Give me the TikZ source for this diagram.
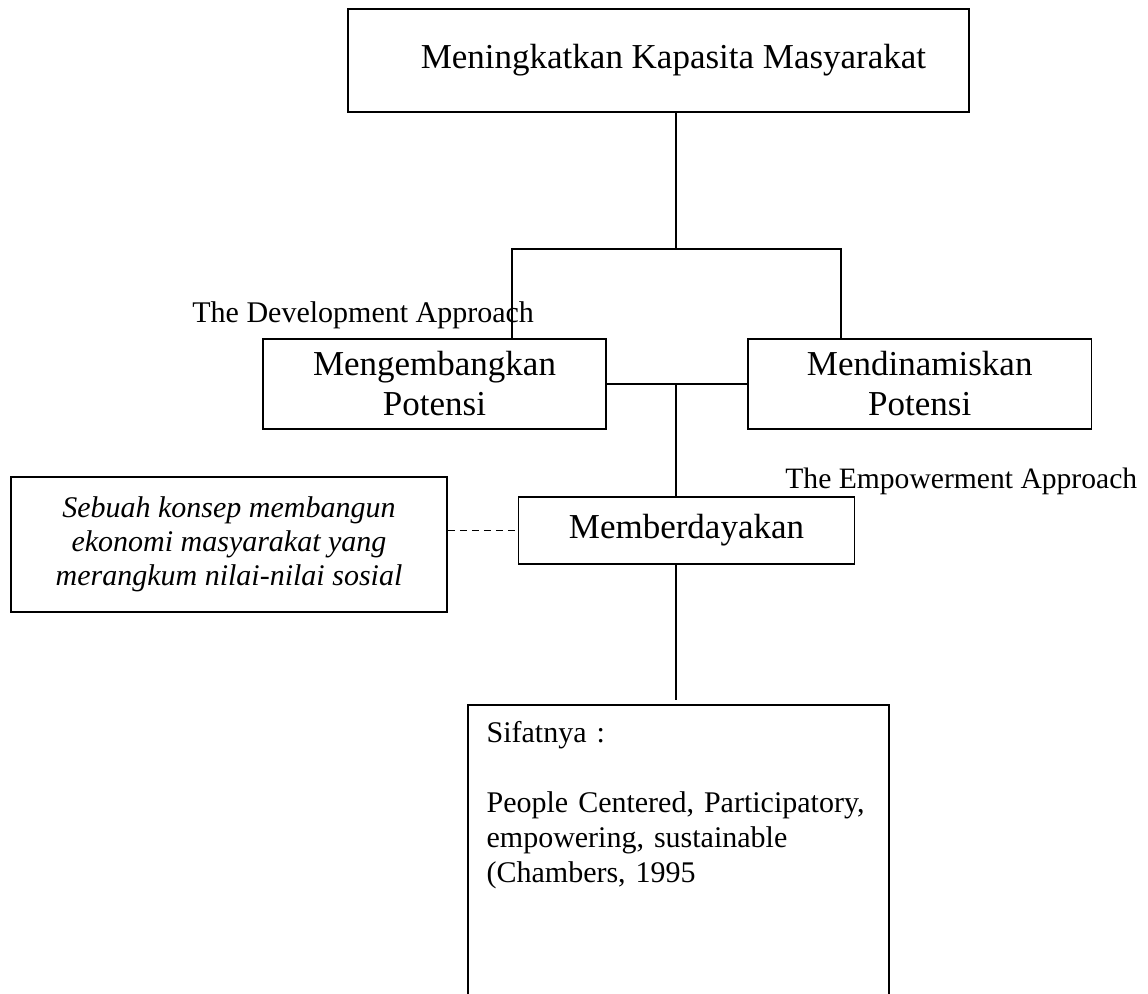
\documentclass[tikz,border=0pt]{standalone}
\usepackage{fontspec}
\setmainfont{Liberation Serif}
\usetikzlibrary{positioning}
\tikzstyle{conn} = [line width=0.7pt]

\begin{document}
\begin{tikzpicture}[
				x=0.5pt, y=-0.5pt,
				box/.style={draw, line width=0.9pt, inner sep=0pt, align=center, font=\fontsize{17.5}{20}\selectfont},
				note/.style={draw, line width=0.9pt, inner sep=0pt, align=center, font=\fontsize{15}{17}\selectfont\itshape},
				traits/.style={draw, line width=0.9pt, anchor=north west, text width=191.5pt, inner xsep=9.5pt, inner ysep=8pt, align=left, text depth=300pt, font=\fontsize{15}{17.5}\selectfont},
				approach/.style={inner sep=0pt, anchor=base west, font=\fontsize{15}{17}\selectfont}
				]
				\useasboundingbox (0,0) rectangle (1148,994);
				\clip (0,0) rectangle (1148,994);
				
				\node (top) at (658.5,60.5) [box, minimum width=310.5pt, minimum height=51.5pt] {\hspace*{15pt}Meningkatkan Kapasita Masyarakat};
				\node (dev) at (434.5,384) [box, minimum width=171.5pt, minimum height=45pt] {Mengembangkan\\Potensi};
				\node (din) at (919.75,384) [box, minimum width=171.75pt, minimum height=45pt] {Mendinamiskan\\Potensi};
				\node (memb) at (686.5,530.5) [box, minimum width=168pt, minimum height=33.5pt] {Memberdayakan};
				\node (konsep) at (229,544.5) [note, minimum width=218pt, minimum height=67.5pt] {Sebuah konsep membangun\\ekonomi masyarakat yang\\merangkum nilai-nilai sosial};
				\node (sif) at (466.7,704) [traits] {Sifatnya :\\[17.5pt]People Centered, Participatory,\\empowering, sustainable\\(Chambers, 1995};
				\node (devlab) at (192,323) [approach] {The Development Approach};
				\node (emplab) at (785,489) [approach, font=\fontsize{14.8}{17}\selectfont] {The Empowerment Approach};
				
				\coordinate (jt) at (676,249);
				\coordinate (jl) at (512,249);
				\coordinate (jr) at (841,249);
				\coordinate (jm) at (676,384);
				
				\draw[conn] (top.south -| jt) -- (jt);
				\draw[conn] (jl |- dev.north) -- (jl) -- (jr) -- (jr |- din.north);
				\draw[conn] (dev.east) -- (din.west);
				\draw[conn] (jm) -- (jm |- memb.north);
				\draw[conn, shorten >=2pt] (memb.south -| jm) -- (sif.north -| jm);
				\draw[conn, dash pattern=on 3.5pt off 2.5pt] (konsep.east |- memb.west) -- (memb.west);
			\end{tikzpicture}
\end{document}
